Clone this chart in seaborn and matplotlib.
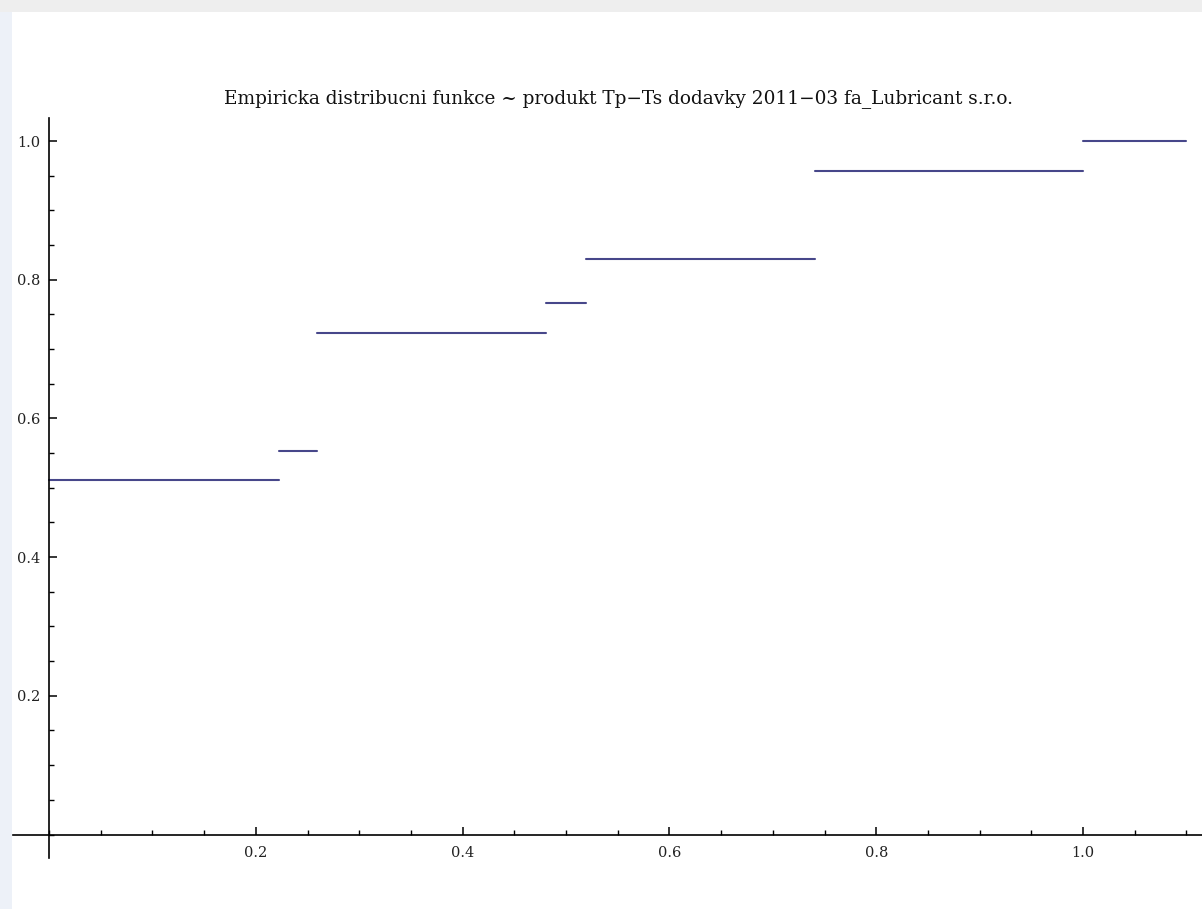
import numpy as np
import pandas as pd
import matplotlib
matplotlib.use("Agg")
import matplotlib.pyplot as plt
from matplotlib.patches import Rectangle
from matplotlib.ticker import MultipleLocator, FixedLocator
import seaborn as sns

# Observed Tp-Ts values (distinct) and how often each occurred
values = [0.0, 0.222, 0.259, 0.481, 0.519, 0.741, 1.0]
counts = [24, 2, 8, 2, 3, 6, 2]
x_end = 1.1

title = "Empiricka distribucni funkce ~ produkt Tp\u2212Ts dodavky 2011\u221203 fa_Lubricant s.r.o."
x_ticks = [0.2, 0.4, 0.6, 0.8, 1.0]
y_ticks = [0.2, 0.4, 0.6, 0.8, 1.0]

# Empirical CDF: one horizontal segment per distinct value
cum = np.cumsum(counts) / np.sum(counts)
starts = values
ends = values[1:] + [x_end]
rows = []
for i, (a, b, f) in enumerate(zip(starts, ends, cum)):
    rows.append({"seg": i, "x": a, "F": f})
    rows.append({"seg": i, "x": b, "F": f})
df = pd.DataFrame(rows)

sns.set_style("white")
plt.rcParams["font.family"] = ["DejaVu Serif", "Liberation Serif"]

W, H = 1202, 909
fig = plt.figure(figsize=(W / 100, H / 100), dpi=100)

# window frame around the plot area
fig.patches.append(Rectangle((0, 1 - 12 / H), 1, 12 / H, transform=fig.transFigure,
                             facecolor="#eeeeee", edgecolor="none", zorder=-5))
fig.patches.append(Rectangle((0, 0), 12 / W, 1 - 12 / H, transform=fig.transFigure,
                             facecolor="#edf1f8", edgecolor="none", zorder=-5))

# axes box in pixel terms: left 13, right 1202, top 118, bottom 858
left, right, top, bottom = 13, 1202, 118, 858
ax = fig.add_axes([left / W, 1 - bottom / H, (right - left) / W, (bottom - top) / H])
ax.set_facecolor("none")

sns.lineplot(data=df, x="x", y="F", units="seg", estimator=None,
             color="#47478a", linewidth=1.5, ax=ax, legend=False)

x0_px, x1_px = 49, 1083
y0_px, y1_px = 834.5, 141
sx = (x1_px - x0_px) / 1.0
sy = (y0_px - y1_px) / 1.0
ax.set_xlim((left - x0_px) / sx, (right - x0_px) / sx)
ax.set_ylim((y0_px - bottom) / sy, (y0_px - top) / sy)

for s in ["top", "right"]:
    ax.spines[s].set_visible(False)
for s in ["left", "bottom"]:
    ax.spines[s].set_position(("data", 0))
    ax.spines[s].set_color("black")
    ax.spines[s].set_linewidth(1.2)

ax.xaxis.set_major_locator(FixedLocator(x_ticks))
ax.yaxis.set_major_locator(FixedLocator(y_ticks))
ax.xaxis.set_minor_locator(MultipleLocator(0.05))
ax.yaxis.set_minor_locator(MultipleLocator(0.05))
ax.set_xticklabels([f"{t:.1f}" for t in x_ticks])
ax.set_yticklabels([f"{t:.1f}" for t in y_ticks])
ax.tick_params(axis="both", which="both", bottom=True, left=True, top=False, right=False)
ax.tick_params(axis="both", which="major", direction="in", length=6, width=1.1,
               color="black", labelsize=10.5, labelcolor="#222222")
ax.tick_params(axis="both", which="minor", direction="in", length=3.5, width=1.0,
               color="black")
ax.tick_params(axis="x", which="major", pad=8)
ax.tick_params(axis="y", which="major", pad=6.5)
ax.set_xlabel("")
ax.set_ylabel("")
ax.grid(False)

fig.text(618 / W, 1 - 99 / H, title, ha="center", va="center",
         fontsize=13.3, color="#111111")

fig.savefig("out.png", dpi=100, facecolor="white")
